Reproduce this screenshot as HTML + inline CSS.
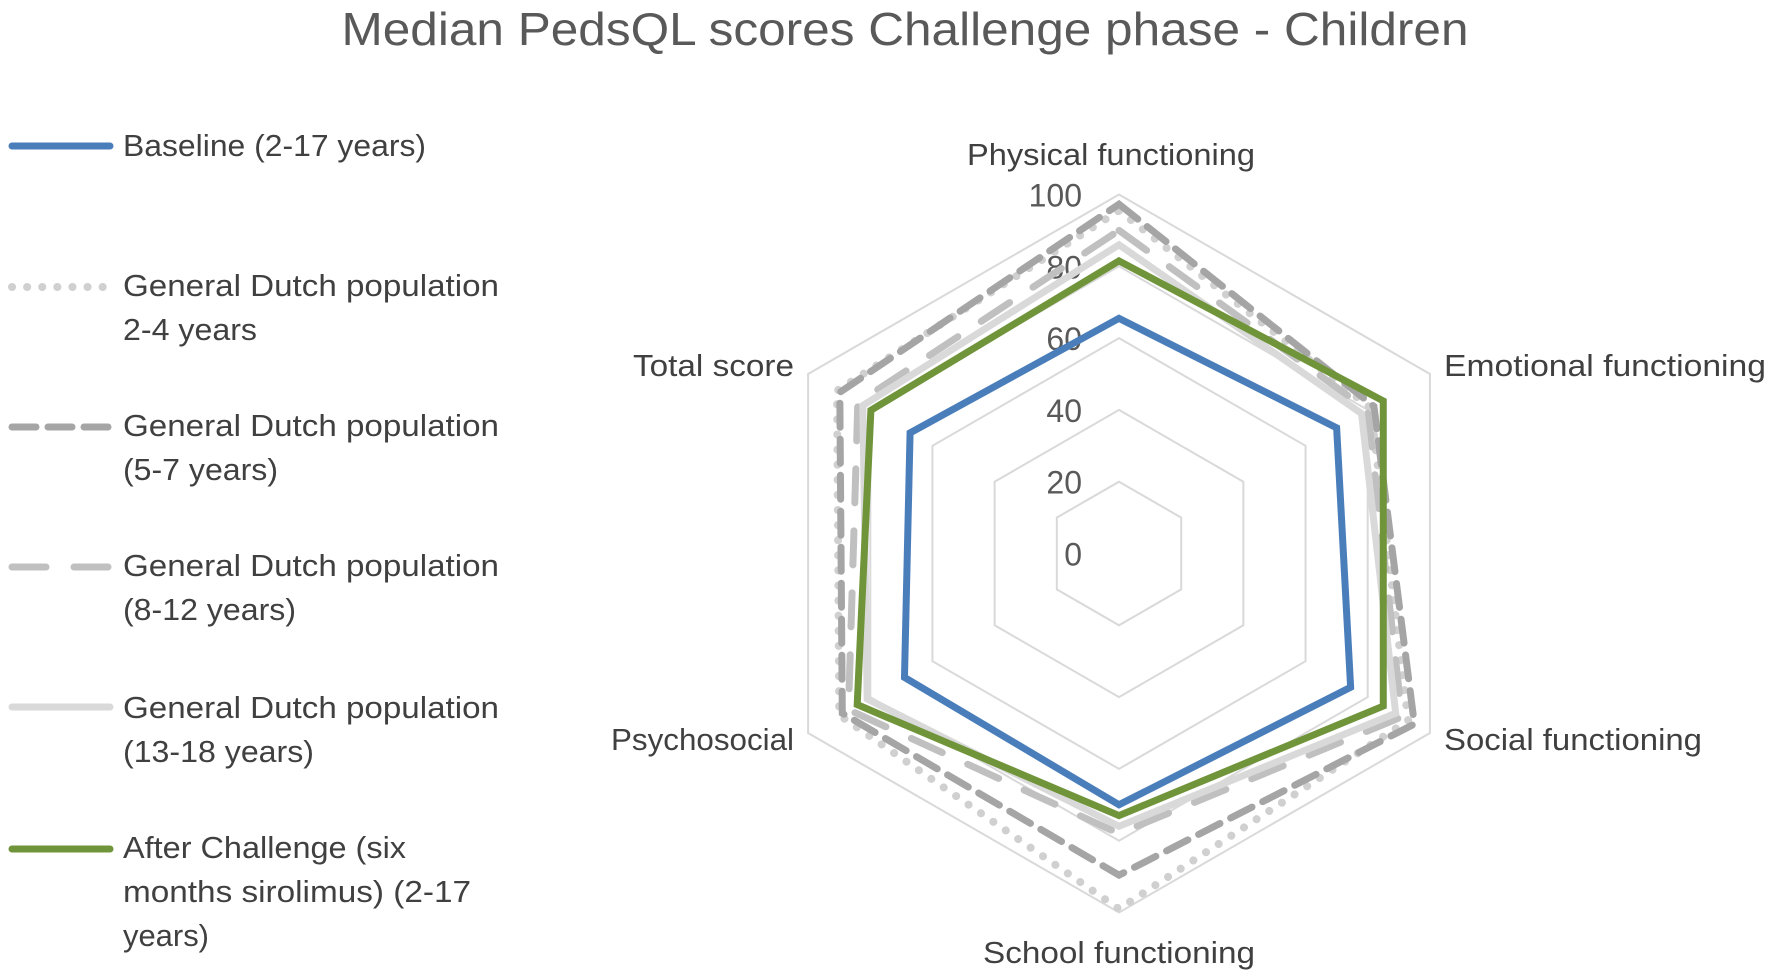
<!DOCTYPE html>
<html><head><meta charset="utf-8"><style>
html,body{margin:0;padding:0;background:#fff;}
svg{display:block;font-family:"Liberation Sans",sans-serif;}
</style></head><body>
<svg id="chart" width="1772" height="975" viewBox="0 0 1772 975">
<text x="905" y="45" font-size="46" fill="#595959" text-anchor="middle" textLength="1127" lengthAdjust="spacingAndGlyphs">Median PedsQL scores Challenge phase - Children</text>
<g id="grid"></g>
<g id="series"></g>
<g id="labels"></g>
<g id="legend"></g>
</svg>
<script>
const categories = ["Physical functioning","Emotional functioning","Social functioning","School functioning","Psychosocial","Total score"];
const ticks = [0,20,40,60,80,100];
const baseline = [65.5,70,74.5,70,69,67.2];
const pop2to4 = [95.5,81,93,99,90,90.7];
const pop5to7 = [97.3,82,95,89.6,89,89.8];
const pop8to12 = [90,80,91,78,87,84];
const pop13to18 = [86,78,89,76,81,82.4];
const afterChallenge = [81.5,85,85,73,84.2,79.8];

const NS="http://www.w3.org/2000/svg";
const cx=1119, cy=553.5, R=359, maxV=100;
function pt(i,v){const a=-Math.PI/2+i*Math.PI/3;const r=v/maxV*R;return [cx+r*Math.cos(a),cy+r*Math.sin(a)];}
function mk(tag,attrs,parent){const e=document.createElementNS(NS,tag);for(const k in attrs)e.setAttribute(k,attrs[k]);parent.appendChild(e);return e;}
const grid=document.getElementById('grid');
ticks.forEach(t=>{
  if(t===0)return;
  const p=categories.map((c,i)=>pt(i,t).join(',')).join(' ');
  const g=mk('polygon',{points:p,fill:'none',stroke:'#d9d9d9','stroke-width':2},grid);
  
  
});
ticks.forEach(t=>{
  const y=pt(0,t)[1]+12;
  const tx=mk('text',{x:1082,y:y,'font-size':32,fill:'#595959','text-anchor':'end'},grid);
  tx.textContent=t;
  
  
});
const seriesDefs=[
 {name:'series-2-4',data:pop2to4,color:'#d0d0d0',dash:'0.1 15',cap:'round',w:8},
 {name:'series-5-7',data:pop5to7,color:'#a5a5a5',dash:'24 12',cap:'round',w:7},
 {name:'series-8-12',data:pop8to12,color:'#c0c0c0',dash:'34 28',cap:'round',w:7},
 {name:'series-13-18',data:pop13to18,color:'#d9d9d9',dash:'',cap:'butt',w:7},
 {name:'series-baseline',data:baseline,color:'#4a7ebb',dash:'',cap:'butt',w:7},
 {name:'series-after-challenge',data:afterChallenge,color:'#70943a',dash:'',cap:'butt',w:7}
];
const sg=document.getElementById('series');
seriesDefs.forEach(s=>{
  const p=s.data.map((v,i)=>pt(i,v).join(',')).join(' ');
  const attrs={points:p,fill:'none',stroke:s.color,'stroke-width':s.w,'stroke-linecap':s.cap,'stroke-linejoin':'miter'};
  if(s.dash)attrs['stroke-dasharray']=s.dash;
  const e=mk('polygon',attrs,sg);
  
  
});
const lab=document.getElementById('labels');
const labPos=[[1111,165,'middle',288],[1444,376,'start',322],[1444,750,'start',258],[1119,963,'middle',272],[794,750,'end',183],[794,376,'end',161]];
categories.forEach((c,i)=>{
  const p=labPos[i];
  const t=mk('text',{x:p[0],y:p[1],'font-size':31,fill:'#404040','text-anchor':p[2],textLength:p[3],lengthAdjust:'spacingAndGlyphs'},lab);
  t.textContent=c;
  
  
});
const lg=document.getElementById('legend');
const legendItems=[
 {s:4,ly:146,lines:[['Baseline (2-17 years)',156,303]]},
 {s:0,ly:287,lines:[['General Dutch population',296,376],['2-4 years',340,134]]},
 {s:1,ly:427,lines:[['General Dutch population',436,376],['(5-7 years)',480,155]]},
 {s:2,ly:567,lines:[['General Dutch population',576,376],['(8-12 years)',620,173]]},
 {s:3,ly:707,lines:[['General Dutch population',718,376],['(13-18 years)',762,191]]},
 {s:5,ly:849,lines:[['After Challenge (six',858,283],['months sirolimus) (2-17',902,348],['years)',946,86]]}
];
legendItems.forEach(it=>{
  const s=seriesDefs[it.s];
  const g=mk('g',{},lg);
  
  
  const a={x1:12,y1:it.ly,x2:110,y2:it.ly,stroke:s.color,'stroke-width':s.w,'stroke-linecap':'round'};
  if(s.dash)a['stroke-dasharray']=s.dash;
  const l=mk('line',a,g);
  
  
  it.lines.forEach(ln=>{
    const t=mk('text',{x:123,y:ln[1],'font-size':31,fill:'#404040',textLength:ln[2],lengthAdjust:'spacingAndGlyphs'},g);
    t.textContent=ln[0];
    
    
  });
});
</script>
</body></html>
